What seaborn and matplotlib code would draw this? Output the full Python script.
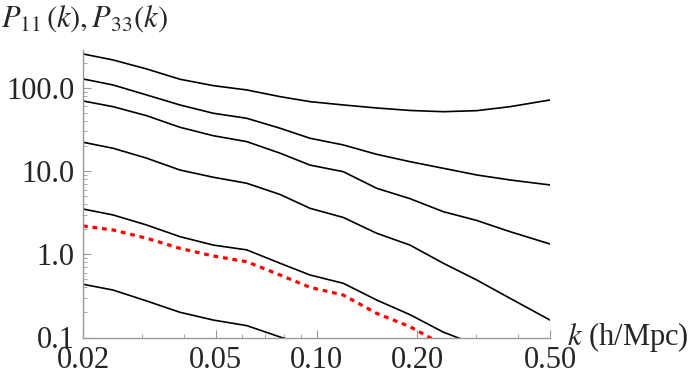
import numpy as np
import pandas as pd
import matplotlib
matplotlib.use('Agg')
import matplotlib.pyplot as plt
import seaborn as sns
from matplotlib.ticker import FixedLocator, NullFormatter

# k grid (h/Mpc)
k = [0.0200, 0.0246, 0.0310, 0.0390, 0.0491, 0.0618, 0.0778, 0.0956,
     0.1203, 0.1514, 0.1905, 0.2397, 0.3017, 0.3795, 0.500]

# black curves, top to bottom
p_a = [255.6, 216.4, 168.7, 126.9, 106.3, 94.4, 78.4, 68.3,
       62.3, 57.3, 53.5, 51.7, 53.2, 59.4, 71.5]
p_b = [127.9, 108.3, 82.2, 62.3, 49.5, 43.1, 32.7, 24.8,
       20.6, 15.9, 12.97, 10.8, 8.98, 7.82, 6.81]
p_c = [69.6, 59.4, 46.3, 33.6, 26.6, 22.6, 16.4, 11.8,
       9.83, 6.21, 4.66, 3.25, 2.55, 1.87, 1.33]
p_d = [22.2, 18.8, 14.3, 10.3, 8.43, 7.14, 5.23, 3.57,
       2.77, 1.79, 1.29, 0.780, 0.491, 0.296, 0.162]
p_e = [3.50, 2.97, 2.25, 1.63, 1.29, 1.13, 0.780, 0.564,
       0.448, 0.282, 0.188, 0.116, 0.0813]
p_f = [0.436, 0.372, 0.275, 0.201, 0.162, 0.139, 0.1014, 0.079]
# red dashed curve
p_red = [2.19, 1.96, 1.56, 1.18, 0.954, 0.815, 0.564, 0.401,
         0.324, 0.195, 0.135, 0.0813]

black_curves = [p_a, p_b, p_c, p_d, p_e, p_f]

x_ticks = [0.02, 0.05, 0.10, 0.20, 0.50]
x_labels = ['0.02', '0.05', '0.10', '0.20', '0.50']
y_ticks = [0.1, 1.0, 10.0, 100.0]
y_labels = ['0.1', '1.0', '10.0', '100.0']

sns.set_style('ticks')
plt.rcParams['font.family'] = ['Liberation Serif', 'DejaVu Serif']
plt.rcParams['mathtext.fontset'] = 'stix'

fig = plt.figure(figsize=(6.98, 3.84), dpi=100)
ax = fig.add_axes([83 / 698, 1 - 337.5 / 384, (550 - 83) / 698, (337.5 - 50) / 384])

# curves that drop below the axis are simply clipped, as in the original
for vals in black_curves:
    df = pd.DataFrame({'k': k[:len(vals)], 'P': vals})
    sns.lineplot(data=df, x='k', y='P', ax=ax, color='black', lw=1.2)

df_red = pd.DataFrame({'k': k[:len(p_red)], 'P': p_red})
sns.lineplot(data=df_red, x='k', y='P', ax=ax, color='#ff0000', lw=2.3,
             linestyle=(0, (1.5, 1.5)))

ax.set_xscale('log')
ax.set_yscale('log')
ax.set_xlim(0.02, 0.5)
ax.set_ylim(0.1, 285)

ax.xaxis.set_major_locator(FixedLocator(x_ticks))
ax.set_xticklabels(x_labels)
ax.xaxis.set_minor_locator(FixedLocator([0.03, 0.04, 0.06, 0.07, 0.08, 0.09, 0.3, 0.4]))
ax.xaxis.set_minor_formatter(NullFormatter())
ax.yaxis.set_major_locator(FixedLocator(y_ticks))
ax.set_yticklabels(y_labels)
ax.yaxis.set_minor_formatter(NullFormatter())

for s in ['top', 'right']:
    ax.spines[s].set_visible(False)
for s in ['left', 'bottom']:
    ax.spines[s].set_color('#999999')
    ax.spines[s].set_linewidth(1.0)

ax.tick_params(which='both', direction='in', color='#999999', labelsize=22)
ax.tick_params(which='major', length=6, width=0.8)
ax.tick_params(which='minor', length=3, width=0.6)
ax.tick_params(axis='x', pad=6)
ax.tick_params(axis='y', pad=6)
ax.set_xlabel('')
ax.set_ylabel('')

fig.text(0.002, 0.952, r'$P_{11}\,(k), P_{33}(k)$', fontsize=22, va='center', ha='left')
fig.text(567 / 698, 1 - 337.5 / 384, r'$k$ (h/Mpc)', fontsize=22, va='center', ha='left')

fig.savefig('out.png', dpi=100)
